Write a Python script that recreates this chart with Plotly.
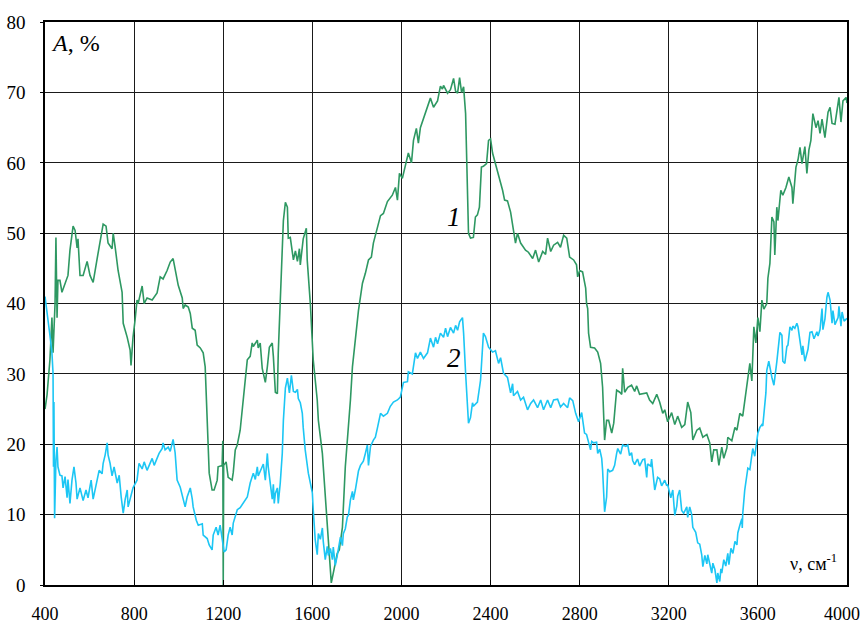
import plotly.graph_objects as go

# IR absorption spectra: wavenumber (cm^-1) vs absorbance A (%)
nu_1 = [400, 409, 422, 431, 436, 445, 449, 454, 458, 467, 476, 490, 503, 512, 526, 535, 544, 548,
        557, 571, 589, 602, 616, 634, 647, 661, 674, 683, 701, 706, 715, 728, 746, 751, 769, 782,
        786, 795, 804, 813, 818, 836, 845, 858, 881, 903, 917, 930, 948, 962, 975, 984, 998, 1016,
        1020, 1029, 1043, 1052, 1061, 1074, 1083, 1097, 1110, 1119, 1128, 1137, 1150, 1159, 1173,
        1177, 1195, 1198, 1200, 1202, 1213, 1222, 1240, 1245, 1254, 1263, 1276, 1290, 1299, 1308,
        1321, 1330, 1335, 1353, 1357, 1366, 1375, 1389, 1398, 1407, 1420, 1425, 1434, 1443, 1447,
        1456, 1461, 1470, 1479, 1488, 1492, 1501, 1515, 1524, 1533, 1542, 1546, 1559, 1573, 1577,
        1591, 1604, 1622, 1627, 1645, 1658, 1672, 1685, 1694, 1703, 1712, 1721, 1735, 1748, 1762,
        1771, 1780, 1793, 1807, 1825, 1838, 1852, 1865, 1874, 1892, 1906, 1919, 1937, 1959, 1973,
        1982, 1991, 2004, 2018, 2031, 2045, 2054, 2067, 2076, 2085, 2103, 2117, 2130, 2144, 2162,
        2175, 2184, 2189, 2198, 2207, 2220, 2234, 2243, 2252, 2261, 2270, 2279, 2288, 2292, 2297,
        2301, 2310, 2323, 2332, 2341, 2350, 2359, 2368, 2382, 2391, 2400, 2409, 2422, 2436, 2454,
        2463, 2476, 2490, 2503, 2512, 2521, 2535, 2557, 2570, 2589, 2602, 2616, 2634, 2647, 2656,
        2670, 2683, 2701, 2714, 2728, 2742, 2755, 2773, 2786, 2791, 2800, 2813, 2827, 2831, 2836,
        2840, 2849, 2867, 2881, 2894, 2903, 2912, 2921, 2930, 2944, 2953, 2962, 2966, 2980, 2989,
        2993, 3002, 3016, 3033, 3047, 3056, 3069, 3083, 3101, 3114, 3128, 3146, 3159, 3173, 3182,
        3195, 3213, 3227, 3240, 3258, 3272, 3285, 3299, 3308, 3326, 3339, 3353, 3371, 3384, 3393,
        3402, 3416, 3425, 3438, 3447, 3461, 3465, 3483, 3497, 3506, 3519, 3532, 3541, 3555, 3564,
        3573, 3582, 3591, 3600, 3609, 3618, 3627, 3640, 3645, 3654, 3663, 3672, 3676, 3685, 3690,
        3703, 3712, 3726, 3739, 3753, 3757, 3771, 3780, 3789, 3798, 3811, 3820, 3829, 3838, 3847,
        3861, 3870, 3879, 3888, 3901, 3915, 3924, 3933, 3946, 3955, 3964, 3973, 3982, 3996, 4000]
a_1 = [25.0, 27.0, 32.0, 38.0, 33.0, 40.0, 49.4, 38.0, 43.3, 43.3, 41.6, 42.9, 44.0, 47.6, 51.0,
       50.4, 47.9, 49.2, 44.0, 44.0, 46.0, 44.0, 43.0, 46.4, 48.6, 51.3, 51.0, 48.6, 47.8, 50.0,
       48.0, 44.7, 41.6, 37.2, 35.2, 33.4, 31.2, 35.2, 37.6, 40.5, 40.0, 42.5, 40.0, 40.8, 40.5,
       41.5, 43.8, 43.5, 44.7, 45.9, 46.4, 44.7, 42.6, 40.8, 39.3, 39.8, 39.5, 38.6, 36.5, 36.2,
       34.1, 33.7, 33.0, 31.0, 23.4, 15.9, 13.5, 13.5, 14.9, 16.8, 17.0, 20.5, 0.0, 17.0, 17.5,
       15.3, 14.9, 16.0, 19.2, 19.9, 22.0, 26.3, 29.1, 32.0, 32.5, 34.4, 33.9, 34.8, 33.7, 34.4,
       30.8, 28.8, 31.0, 33.8, 34.4, 32.5, 27.4, 27.2, 33.0, 41.5, 44.3, 51.8, 54.4, 53.7, 49.3,
       49.4, 46.2, 47.5, 46.0, 47.8, 45.5, 49.2, 50.7, 46.2, 40.0, 32.0, 26.3, 23.4, 18.7, 12.5,
       6.4, 0.3, 1.7, 3.1, 4.5, 5.0, 8.2, 16.8, 22.4, 26.3, 31.0, 34.8, 39.0, 42.9, 44.3, 46.2,
       46.6, 48.6, 50.9, 52.5, 52.8, 54.5, 55.4, 56.5, 54.7, 58.5, 57.8, 59.9, 61.4, 60.0, 63.2,
       64.9, 62.8, 65.0, 66.8, 67.9, 69.2, 67.9, 68.8, 70.9, 70.5, 71.0, 70.4, 69.9, 70.4, 72.0,
       70.2, 69.9, 72.1, 70.0, 70.8, 67.0, 61.8, 51.8, 50.0, 49.3, 49.4, 52.3, 52.6, 53.7, 59.4,
       59.5, 59.9, 63.2, 63.4, 61.4, 59.9, 58.0, 56.1, 54.7, 54.6, 53.0, 50.0, 48.6, 50.0, 48.6,
       47.6, 47.3, 46.4, 47.6, 45.9, 47.4, 47.0, 49.3, 47.4, 48.3, 48.7, 48.0, 49.7, 49.3, 46.6,
       46.2, 45.5, 43.8, 44.7, 44.5, 42.2, 40.0, 39.3, 35.8, 33.8, 33.7, 33.1, 31.5, 28.1, 20.6,
       23.4, 23.4, 21.6, 23.0, 26.3, 27.7, 27.4, 27.1, 30.8, 27.4, 28.1, 28.4, 27.5, 28.3, 27.1,
       27.2, 27.3, 26.3, 25.8, 27.1, 26.0, 24.4, 24.9, 23.2, 24.5, 22.8, 24.0, 22.4, 22.8, 26.0,
       24.5, 20.6, 22.0, 22.3, 21.0, 21.4, 20.2, 17.5, 19.2, 19.2, 17.0, 19.6, 18.0, 19.5, 21.0,
       20.5, 22.4, 22.0, 24.4, 24.0, 26.0, 29.5, 31.5, 29.0, 36.7, 34.4, 38.0, 36.0, 40.5, 39.2,
       40.0, 43.6, 45.7, 52.3, 51.6, 46.9, 53.7, 51.8, 56.1, 55.4, 56.5, 58.0, 56.5, 54.2, 59.4,
       60.4, 62.2, 59.9, 62.3, 58.5, 61.8, 63.2, 67.0, 65.0, 66.0, 64.2, 66.2, 63.6, 67.2, 67.9,
       65.6, 65.5, 67.5, 69.3, 65.8, 68.8, 69.3, 68.5]

nu_2 = [400, 413, 422, 431, 436, 438, 440, 443, 449, 454, 458, 467, 476, 481, 490, 499, 503, 512,
        521, 530, 539, 544, 557, 571, 584, 593, 607, 616, 625, 634, 643, 656, 661, 670, 679, 683,
        692, 701, 710, 724, 733, 742, 751, 760, 769, 773, 786, 795, 813, 822, 836, 845, 858, 872,
        881, 890, 903, 912, 926, 930, 939, 953, 962, 975, 984, 993, 1007, 1020, 1029, 1038, 1052,
        1061, 1065, 1079, 1088, 1106, 1110, 1128, 1137, 1150, 1155, 1168, 1177, 1186, 1195, 1204,
        1213, 1222, 1231, 1240, 1245, 1263, 1276, 1290, 1308, 1321, 1335, 1344, 1353, 1357, 1366,
        1380, 1389, 1398, 1402, 1411, 1420, 1425, 1429, 1434, 1443, 1447, 1456, 1465, 1470, 1479,
        1488, 1497, 1506, 1515, 1524, 1533, 1537, 1546, 1555, 1559, 1568, 1582, 1600, 1604, 1613,
        1622, 1627, 1636, 1645, 1649, 1658, 1667, 1672, 1681, 1690, 1694, 1703, 1712, 1717, 1726,
        1735, 1739, 1748, 1757, 1762, 1771, 1780, 1784, 1793, 1802, 1807, 1816, 1829, 1838, 1847,
        1852, 1861, 1874, 1883, 1892, 1906, 1919, 1937, 1950, 1964, 1982, 1995, 2009, 2027, 2031,
        2049, 2063, 2072, 2085, 2099, 2117, 2130, 2144, 2153, 2162, 2175, 2189, 2198, 2207, 2220,
        2234, 2243, 2252, 2261, 2274, 2279, 2288, 2297, 2301, 2310, 2319, 2323, 2341, 2355, 2364,
        2368, 2377, 2391, 2409, 2422, 2436, 2445, 2458, 2476, 2490, 2499, 2503, 2521, 2535, 2548,
        2566, 2580, 2593, 2611, 2625, 2638, 2656, 2670, 2683, 2701, 2714, 2728, 2746, 2755, 2769,
        2782, 2795, 2809, 2822, 2831, 2849, 2854, 2863, 2876, 2881, 2890, 2899, 2903, 2912, 2921,
        2926, 2935, 2948, 2957, 2966, 2971, 2984, 2993, 3007, 3016, 3024, 3033, 3038, 3047, 3056,
        3060, 3069, 3083, 3092, 3101, 3105, 3119, 3123, 3137, 3150, 3159, 3168, 3182, 3191, 3195,
        3209, 3218, 3227, 3236, 3240, 3249, 3258, 3267, 3281, 3285, 3294, 3303, 3308, 3321, 3330,
        3339, 3348, 3353, 3362, 3371, 3375, 3384, 3393, 3398, 3407, 3416, 3420, 3429, 3434, 3438,
        3447, 3456, 3465, 3470, 3479, 3488, 3497, 3506, 3510, 3519, 3528, 3530, 3532, 3541, 3550,
        3555, 3564, 3573, 3577, 3586, 3595, 3600, 3609, 3618, 3622, 3627, 3636, 3640, 3649, 3663,
        3672, 3685, 3699, 3708, 3712, 3721, 3730, 3735, 3744, 3753, 3757, 3766, 3775, 3780, 3789,
        3798, 3802, 3811, 3825, 3834, 3843, 3852, 3865, 3870, 3879, 3888, 3892, 3901, 3910, 3915,
        3924, 3933, 3937, 3946, 3960, 3964, 3973, 3978, 3987, 4000]
a_2 = [41.0, 38.0, 35.5, 33.0, 30.1, 16.8, 26.0, 9.5, 17.8, 19.6, 16.8, 15.6, 15.5, 13.8, 15.4,
       12.4, 15.0, 11.6, 14.9, 16.8, 14.5, 12.2, 13.8, 12.0, 13.5, 12.4, 14.9, 12.2, 13.5, 14.9,
       16.3, 15.8, 17.3, 18.5, 20.2, 18.5, 17.3, 15.5, 16.8, 14.5, 15.6, 12.5, 10.2, 12.2, 13.5,
       11.1, 12.5, 13.8, 14.9, 17.3, 16.5, 17.5, 16.3, 17.5, 18.0, 17.0, 18.0, 18.7, 19.4, 20.2,
       19.2, 19.6, 19.0, 20.7, 18.8, 14.9, 13.9, 12.2, 11.1, 12.5, 13.8, 12.2, 11.1, 9.2, 8.5,
       8.7, 7.1, 6.6, 5.7, 5.0, 7.1, 8.2, 7.1, 8.5, 6.2, 4.7, 5.0, 7.1, 8.2, 7.1, 8.8, 10.7, 11.0,
       11.6, 12.5, 14.5, 15.9, 15.0, 16.8, 15.5, 16.2, 17.2, 14.9, 18.7, 16.8, 14.5, 12.2, 14.3,
       11.6, 13.0, 13.8, 11.6, 14.5, 18.7, 23.4, 28.0, 29.4, 27.3, 29.8, 27.5, 27.4, 27.8, 26.5,
       25.9, 24.4, 22.4, 19.2, 15.9, 13.1, 10.7, 6.4, 4.3, 7.3, 6.5, 8.1, 6.2, 3.6, 5.5, 4.2, 5.2,
       3.6, 5.4, 2.8, 4.2, 5.2, 6.8, 5.6, 7.3, 8.0, 9.7, 9.9, 12.1, 13.3, 12.1, 13.5, 14.9, 16.2,
       17.0, 17.6, 18.7, 19.9, 17.0, 19.7, 20.6, 21.0, 22.3, 24.4, 24.0, 24.4, 25.4, 26.0, 26.3,
       26.7, 28.8, 28.9, 30.3, 30.0, 33.0, 32.2, 33.1, 32.2, 33.0, 35.1, 33.8, 35.2, 34.3, 35.8,
       35.2, 36.5, 35.3, 36.6, 35.8, 36.9, 36.2, 37.4, 38.0, 35.8, 30.1, 25.3, 23.0, 23.8, 25.9,
       25.4, 26.0, 29.1, 34.8, 35.8, 35.3, 33.8, 33.1, 33.3, 31.5, 32.3, 30.1, 29.5, 27.3, 28.6,
       26.9, 27.5, 26.3, 26.7, 24.9, 25.8, 26.3, 25.2, 26.3, 24.9, 26.3, 25.2, 26.3, 26.4, 25.3,
       25.8, 25.2, 26.6, 26.2, 24.4, 23.2, 24.5, 21.6, 21.4, 19.2, 20.4, 20.2, 20.3, 18.7, 19.3,
       18.0, 16.3, 10.4, 12.5, 16.5, 16.1, 16.3, 17.0, 18.7, 19.4, 18.6, 19.9, 19.7, 19.9, 18.4,
       18.8, 17.7, 17.1, 17.7, 17.9, 16.9, 17.8, 17.9, 15.3, 17.2, 16.9, 17.9, 13.5, 15.3, 15.1,
       14.1, 14.9, 14.1, 14.3, 12.4, 13.5, 9.9, 11.2, 12.6, 13.5, 10.6, 10.2, 11.1, 9.6, 11.1,
       10.0, 8.2, 7.5, 6.0, 5.8, 4.3, 2.6, 4.2, 3.0, 4.3, 3.0, 1.7, 3.1, 2.2, 0.3, 1.7, 0.5, 2.3,
       1.7, 3.6, 2.7, 4.5, 2.9, 5.2, 4.5, 6.2, 5.7, 7.4, 8.5, 9.4, 8.1, 10.1, 13.5, 15.2, 16.6,
       16.4, 18.2, 19.4, 18.3, 20.2, 21.6, 22.4, 22.8, 22.6, 24.0, 27.3, 30.5, 31.8, 29.5, 28.4,
       31.7, 35.9, 35.5, 31.8, 31.5, 33.9, 34.1, 36.7, 36.2, 36.8, 36.5, 37.2, 36.7, 34.8, 32.7,
       34.0, 31.8, 33.5, 35.9, 36.0, 35.0, 36.0, 35.4, 36.3, 39.3, 36.3, 37.8, 40.9, 41.6, 40.5,
       37.2, 39.0, 37.0, 38.0, 39.6, 36.8, 38.8, 37.5, 37.9]

x_ticks = [400, 800, 1200, 1600, 2000, 2400, 2800, 3200, 3600, 4000]
x_ticktext = ["400", "800", "1200", "1600", "2000", "2400", "2800", "3200", "3600", ""]
x_last_label = "4000"   # drawn separately, nudged left so it stays on the page
y_ticks = [0, 10, 20, 30, 40, 50, 60, 70, 80]

SERIF = "Times New Roman, Liberation Serif, DejaVu Serif, serif"

fig = go.Figure()
fig.add_trace(go.Scatter(x=nu_1, y=a_1, mode="lines", name="1",
                         line=dict(color="#2E9862", width=1.6)))
fig.add_trace(go.Scatter(x=nu_2, y=a_2, mode="lines", name="2",
                         line=dict(color="#1CC6F4", width=1.6)))

axis_common = dict(showgrid=True, gridcolor="#1a1a1a", gridwidth=1.2,
                   showline=True, linecolor="black", linewidth=1.5, mirror=True,
                   zeroline=False, automargin=False, ticklabeloverflow="allow",
                   tickcolor="black")

fig.update_xaxes(range=[399.9, 4000.1], tickvals=x_ticks, ticktext=x_ticktext,
                 ticks="inside", ticklen=5, ticklabelstandoff=12,
                 tickfont=dict(family=SERIF, size=18, color="black"), **axis_common)
fig.update_yaxes(range=[0, 80.02], tickvals=y_ticks, ticks="outside", ticklen=3,
                 ticklabelstandoff=11,
                 tickfont=dict(family=SERIF, size=19, color="black"), **axis_common)

fig.add_annotation(x=x_ticks[-1], y=0, xref="x", yref="paper", text=x_last_label,
                   showarrow=False, xanchor="right", yanchor="middle",
                   xshift=15, yshift=-29,
                   font=dict(family=SERIF, size=18, color="black"))
fig.add_annotation(x=418, y=77.0, xref="x", yref="y", text="<i>A</i>, %", showarrow=False,
                   xanchor="left", yanchor="middle",
                   font=dict(family=SERIF, size=24, color="black"))
fig.add_annotation(x=3962, y=3.2, xref="x", yref="y", text="ν, см<sup>-1</sup>",
                   showarrow=False, xanchor="right", yanchor="middle",
                   font=dict(family=SERIF, size=18, color="black"))
fig.add_annotation(x=2236, y=52.3, xref="x", yref="y", text="<i>1</i>", showarrow=False,
                   font=dict(family=SERIF, size=27, color="black"))
fig.add_annotation(x=2236, y=32.2, xref="x", yref="y", text="<i>2</i>", showarrow=False,
                   font=dict(family=SERIF, size=27, color="black"))

fig.update_layout(width=864, height=626, showlegend=False,
                  margin=dict(l=45, r=17, t=22, b=41),
                  font=dict(family=SERIF),
                  paper_bgcolor="white", plot_bgcolor="white")

fig.write_html("out.html")
